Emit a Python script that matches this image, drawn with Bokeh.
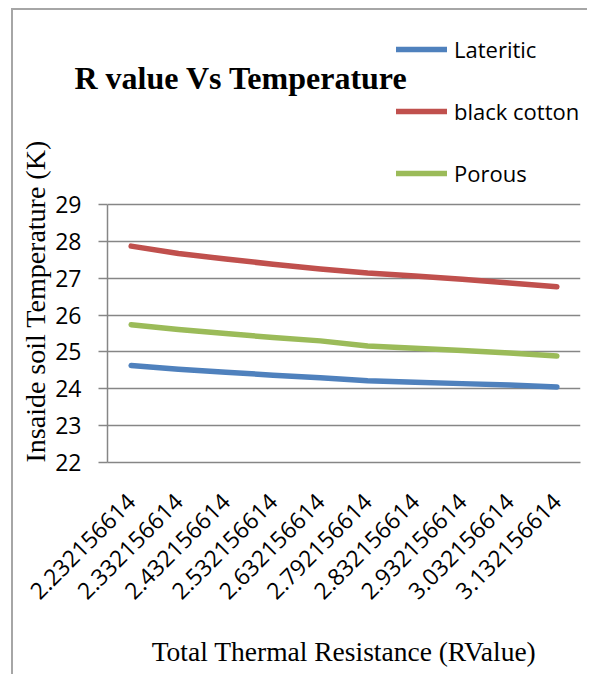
import math
from bokeh.plotting import figure
from bokeh.models import (FactorRange, Range1d, FixedTicker, Legend, LegendItem,
                          ColumnDataSource, Title, Label)
from bokeh.embed import file_html
from bokeh.resources import INLINE

# ---- data ----
r_values = ["2.232156614", "2.332156614", "2.432156614", "2.532156614", "2.632156614",
            "2.792156614", "2.832156614", "2.932156614", "3.032156614", "3.132156614"]
lateritic = [24.63, 24.53, 24.45, 24.37, 24.30, 24.22, 24.18, 24.14, 24.10, 24.05]
black_cotton = [27.87, 27.67, 27.52, 27.38, 27.25, 27.14, 27.06, 26.97, 26.87, 26.77]
porous = [25.74, 25.61, 25.50, 25.39, 25.30, 25.16, 25.10, 25.04, 24.97, 24.89]
y_ticks = [22, 23, 24, 25, 26, 27, 28, 29]

series_names = ["Lateritic", "black cotton", "Porous"]
series_colors = ["#4F81BD", "#C0504D", "#9BBB59"]
chart_title = "R value Vs Temperature"
x_title = "Total Thermal Resistance (RValue)"
y_title = "Insaide soil Temperature (K)"

SERIF = "Liberation Serif"
SANS = "Open Sans"
GRID = "#868686"

# ---- layout constants (pixels) ----
W, H = 576, 666
LEFT, RIGHT_PAD = 94, 9
PLOT_TOP = 194          # where the value axis top (29) sits, from canvas top
PLOT_H = 258            # height of the 22..29 plotting band
px_per_unit = PLOT_H / (y_ticks[-1] - y_ticks[0])
y_top = y_ticks[-1] + PLOT_TOP / px_per_unit   # frame extends up to the canvas top

p = figure(
    x_range=FactorRange(*r_values, range_padding=0),
    y_range=Range1d(y_ticks[0], y_top),
    width=W, height=H,
    min_border_left=LEFT, min_border_right=RIGHT_PAD, min_border_top=0,
    min_border_bottom=H - PLOT_TOP - PLOT_H,
    title_location=None,
    output_backend="svg", toolbar_location=None,
)
p.styles = {"border-left": "2px solid #a6a6a6", "border-top": "2px solid #a6a6a6",
            "margin-left": "11px", "margin-top": "8px"}
p.outline_line_color = None
p.background_fill_color = "white"
p.border_fill_color = "white"

src = ColumnDataSource(dict(x=r_values, lat=lateritic, bc=black_cotton, por=porous))
renderers = []
for col, color in zip(["lat", "bc", "por"], series_colors):
    r = p.line("x", col, source=src, line_color=color, line_width=5.5,
               line_cap="round", line_join="round")
    renderers.append(r)

# ---- axes / grid ----
p.yaxis.ticker = FixedTicker(ticks=y_ticks)
p.yaxis.bounds = (y_ticks[0], y_ticks[-1])
p.ygrid.ticker = FixedTicker(ticks=y_ticks)
p.ygrid.grid_line_color = GRID
p.ygrid.grid_line_width = 1.5
p.xgrid.grid_line_color = None

p.yaxis.axis_line_color = GRID
p.yaxis.axis_line_width = 1.5
p.yaxis.major_tick_line_color = GRID
p.yaxis.major_tick_line_width = 1.5
p.yaxis.major_tick_out = 9
p.yaxis.major_tick_in = 0
p.yaxis.minor_tick_line_color = None
p.yaxis.major_label_standoff = 17
p.yaxis.major_label_text_font = SANS
p.yaxis.major_label_text_font_size = "23px"
p.yaxis.major_label_text_color = "black"

p.xaxis.axis_line_color = GRID
p.xaxis.axis_line_width = 1.5
p.xaxis.major_tick_line_color = None
p.xaxis.major_tick_out = 0
p.xaxis.major_tick_in = 0
p.xaxis.major_label_orientation = math.pi / 4
p.xaxis.major_label_standoff = 35
p.xaxis.major_label_text_font = SANS
p.xaxis.major_label_text_font_size = "23px"
p.xaxis.major_label_text_color = "black"

# ---- y axis title: starts at the bottom of the plotting band ----
p.add_layout(Title(text=y_title, align="left", vertical_align="bottom", offset=0,
                   standoff=4, text_font=SERIF, text_font_style="normal",
                   text_font_size="28px", text_color="black"), "left")

# ---- x axis title and chart title (free labels placed from the bottom panel) ----
p.add_layout(Label(x=236.5, y=-10.6, x_units="screen", y_units="screen",
                   text=x_title, text_align="center", text_baseline="alphabetic",
                   text_font=SERIF, text_font_size="27.5px", text_color="black"), "below")
p.add_layout(Label(x=-33, y=598.8, x_units="screen", y_units="screen",
                   text=chart_title, text_align="left", text_baseline="alphabetic",
                   text_font=SERIF, text_font_style="bold", text_font_size="32px",
                   text_color="black"), "below")

# ---- legend (inside the frame, above the plotting band) ----
legend = Legend(
    items=[LegendItem(label=n, renderers=[r]) for n, r in zip(series_names, renderers)],
    location=(289, 274),
    orientation="vertical",
    glyph_width=51, glyph_height=30, label_height=30,
    label_standoff=7, spacing=32, padding=0, margin=0,
    border_line_color=None, background_fill_alpha=0,
    label_text_font=SANS, label_text_font_size="22px", label_text_color="black",
    label_text_baseline="middle",
)
p.add_layout(legend, "center")

open("out.html", "w").write(file_html(p, INLINE))
